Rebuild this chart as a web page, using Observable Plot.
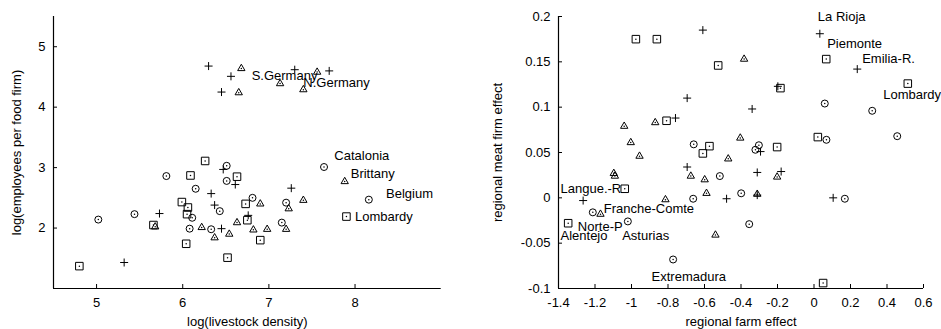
<!DOCTYPE html>
<html><head><meta charset="utf-8">
<script src="https://cdn.jsdelivr.net/npm/d3@7"></script>
<script src="https://cdn.jsdelivr.net/npm/@observablehq/plot@0.6"></script>
<style>
body{margin:0;background:#fff;}
#wrap{display:flex;width:941px;height:329px;overflow:hidden;}
#wrap svg{flex:none;display:block;}
</style></head><body><div id="wrap"></div>
<script>
// ---------- left panel: log(livestock density) vs log(employees per food firm)
const leftPlus = [[6.30,4.68],[6.56,4.51],[6.45,4.25],[7.30,4.62],[7.70,4.60],
  [6.47,2.97],[6.61,2.72],[6.33,2.57],[6.37,2.38],[6.45,1.99],[6.76,2.21],[7.26,2.66],[5.73,2.24],[5.32,1.43]];
const leftCircle = [[6.51,3.03],[6.51,2.78],[5.81,2.86],[6.15,2.65],[6.43,2.28],[6.11,2.17],[6.08,1.99],[6.33,1.98],
  [6.81,2.50],[7.20,2.42],[7.15,2.09],[7.64,3.01],[5.02,2.14],[5.44,2.23],[8.16,2.47]];
const leftSquare = [[6.26,3.11],[6.09,2.87],[6.63,2.85],[5.99,2.43],[6.06,2.34],[6.05,2.23],[6.73,2.40],[6.75,2.13],
  [5.66,2.05],[6.04,1.74],[6.90,1.80],[6.52,1.51],[4.80,1.37],[7.90,2.19]];
const leftTriangle = [[6.68,4.64],[6.65,4.24],[7.13,4.39],[7.56,4.58],[7.40,4.29],
  [5.68,2.02],[6.22,2.01],[6.37,1.84],[6.54,1.90],[6.63,2.09],[6.90,2.40],[6.82,1.97],[6.98,1.98],[7.20,1.98],
  [7.23,2.32],[7.40,2.46],[7.88,2.77]];
const leftLabelNames = ["S.Germany","N.Germany","Catalonia","Brittany","Belgium","Lombardy"];
const leftLabelX = [6.80,7.40,7.76,7.95,8.36,8.00];
const leftLabelY = [4.52,4.40,3.20,2.89,2.56,2.18];
const leftXDomain = [4.5, 9];
const leftYDomain = [1, 5.5];
const leftXTicks = [5,6,7,8];
const leftYTicks = [2,3,4,5];
const leftXTitle = "log(livestock density)";
const leftYTitle = "log(employees per food firm)";

// ---------- right panel: regional farm effect vs regional meat firm effect
const rightPlus = [[-0.609,0.185],[-0.695,0.110],[-0.339,0.098],[-0.759,0.088],[-0.695,0.034],[-0.311,0.028],
  [-0.198,0.123],[-0.293,0.051],[-0.180,0.029],[-0.479,-0.001],[-0.311,0.003],[0.105,0.000],[-1.265,-0.003],
  [0.032,0.181],[0.237,0.142]];
const rightCircle = [[-0.659,0.059],[-0.516,0.024],[0.059,0.104],[-0.302,0.058],[-0.321,0.053],[0.068,0.064],
  [-0.399,0.005],[0.169,-0.001],[-0.355,-0.029],[0.319,0.096],[0.456,0.068],[-0.662,-0.001],[-1.212,-0.016],
  [-1.020,-0.026],[-0.772,-0.068]];
const rightSquare = [[-0.976,0.175],[-0.861,0.175],[-0.525,0.146],[-0.808,0.085],[-0.573,0.057],[-0.609,0.049],
  [-0.202,0.056],[0.021,0.067],[-0.184,0.121],[0.067,0.153],[0.514,0.126],[0.050,-0.094],[-1.037,0.010],[-1.347,-0.028]];
const rightTriangle = [[-0.383,0.153],[-1.040,0.079],[-0.870,0.083],[-1.004,0.061],[-0.956,0.046],[-0.404,0.066],
  [-0.470,0.043],[-1.097,0.027],[-1.091,0.024],[-0.675,0.024],[-0.599,0.020],[-0.202,0.023],[-0.589,0.005],
  [-0.311,0.004],[-0.814,-0.002],[-1.170,-0.018],[-0.540,-0.041]];
const rightLabelNames = ["La Rioja","Piemonte","Emilia-R.","Lombardy","Langue.-R","Franche-Comte","Norte-P","Alentejo","Asturias","Extremadura"];
const rightLabelX = [0.021,0.072,0.264,0.379,-1.389,-1.152,-1.294,-1.389,-1.051,-0.890];
const rightLabelY = [0.200,0.170,0.153,0.114,0.010,-0.012,-0.032,-0.042,-0.042,-0.087];
const rightXDomain = [-1.4, 0.6];
const rightYDomain = [-0.1, 0.2];
const rightXTicks = [-1.4,-1.2,-1,-0.8,-0.6,-0.4,-0.2,0,0.2,0.4,0.6];
const rightYTicks = [-0.1,-0.05,0,0.05,0.1,0.15,0.2];
const rightXTitle = "regional farm effect";
const rightYTitle = "regional meat firm effect";

const FONT = "'Liberation Sans', Arial, Helvetica, sans-serif";
const fmt = d => String(+(+d).toFixed(2));

function markerMarks(plus, circle, square, triangle) {
  const X = d => d[0], Y = d => d[1];
  const common = {x: X, y: Y, stroke: "black", fill: "none", strokeWidth: 1};
  const centre = data => Plot.dot(data, {x: X, y: Y, r: 0.75, fill: "black", stroke: "none"});
  return [
    Plot.dot(plus, {...common, symbol: "plus", r: 2.7}),
    Plot.dot(circle, {...common, symbol: "circle", r: 3.5}),
    centre(circle),
    Plot.dot(square, {...common, symbol: "square2", r: 4.8}),
    centre(square),
    Plot.dot(triangle, {...common, symbol: "triangle2", r: 3.5}),
    centre(triangle)
  ];
}

function panel(o) {
  const labels = o.names.map((n, i) => ({n, x: o.lx[i], y: o.ly[i]}));
  return Plot.plot({
    width: o.width, height: 329,
    marginLeft: o.ml, marginRight: o.mr, marginTop: 16, marginBottom: 41,
    style: {fontFamily: FONT, fontSize: "13px", color: "black", background: "white", overflow: "visible"},
    x: {domain: o.xd},
    y: {domain: o.yd},
    marks: [
      Plot.axisX({ticks: o.xt, tickFormat: fmt, tickSize: -4, tickPadding: 13, label: o.xTitle,
        labelAnchor: "center", labelOffset: 37, labelArrow: "none", fontSize: 13}),
      Plot.axisY({ticks: o.yt, tickFormat: fmt, tickSize: -4, tickPadding: 12, label: o.yTitle,
        labelAnchor: "center", labelOffset: o.ylo, labelArrow: "none", fontSize: 13}),
      Plot.ruleY([o.yd[0]], {stroke: "black", strokeWidth: 1.2}),
      Plot.ruleX([o.xd[0]], {stroke: "black", strokeWidth: 1.2}),
      ...markerMarks(o.plus, o.circle, o.square, o.triangle),
      Plot.text(labels, {x: "x", y: "y", text: "n", textAnchor: "start", fontSize: 13, fill: "black"})
    ]
  });
}

const wrap = document.getElementById("wrap");
wrap.append(panel({width: 470, ml: 53, mr: 29.3, xd: leftXDomain, yd: leftYDomain, xt: leftXTicks, yt: leftYTicks,
  xTitle: leftXTitle, yTitle: leftYTitle, ylo: 42,
  plus: leftPlus, circle: leftCircle, square: leftSquare, triangle: leftTriangle,
  names: leftLabelNames, lx: leftLabelX, ly: leftLabelY}));
wrap.append(panel({width: 471, ml: 88, mr: 18, xd: rightXDomain, yd: rightYDomain, xt: rightXTicks, yt: rightYTicks,
  xTitle: rightXTitle, yTitle: rightYTitle, ylo: 66,
  plus: rightPlus, circle: rightCircle, square: rightSquare, triangle: rightTriangle,
  names: rightLabelNames, lx: rightLabelX, ly: rightLabelY}));
</script>
</body></html>
